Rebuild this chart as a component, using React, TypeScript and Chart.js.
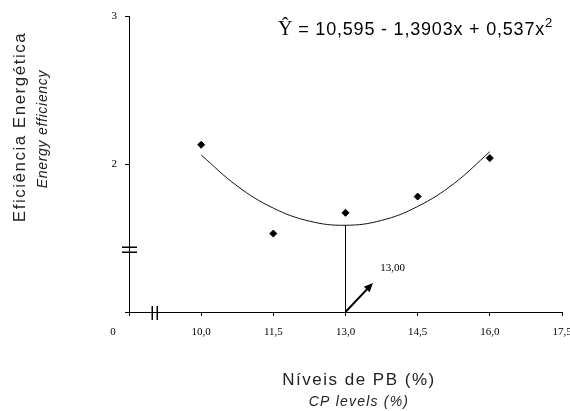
import React, { useEffect, useRef } from 'react';
import { Chart, registerables } from 'chart.js';
Chart.register(...registerables);

const xTickLabels = ['0', '10,0', '11,5', '13,0', '14,5', '16,0', '17,5'];
const cpLevels = [10.0, 11.5, 13.0, 14.5, 16.0];
const efficiency = [2.13, 1.53, 1.67, 1.78, 2.04];
const curveLevels = [10.0, 10.75, 11.5, 12.25, 13.0, 13.75, 14.5, 15.25, 16.0];
const curveValues = [2.061, 1.851, 1.702, 1.614, 1.586, 1.619, 1.713, 1.867, 2.083];
const optimumLevel = 13.0;
const optimumValue = 1.586;
const optimumLabel = '13,00';
const yMin = 1;
const yMax = 3;

// broken x axis: 0, then 10,0 ... 17,5 evenly spaced
const pos = (level: number) => 1 + (level - 10) / 1.5;

const overlay = {
  id: 'overlay',
  afterDraw(chart: any) {
    const ctx = chart.ctx;
    const xs = chart.scales.x;
    const ys = chart.scales.y;
    const ax = xs.getPixelForValue(0);
    const ay = ys.getPixelForValue(yMin);
    ctx.save();
    ctx.strokeStyle = '#000';
    ctx.fillStyle = '#000';

    // axis break marks
    ctx.lineWidth = 1.5;
    const by = ys.getPixelForValue(1.42);
    ctx.beginPath();
    ctx.moveTo(ax - 7, by - 2.5); ctx.lineTo(ax + 8, by - 2.5);
    ctx.moveTo(ax - 7, by + 2.5); ctx.lineTo(ax + 8, by + 2.5);
    ctx.stroke();
    const bx = xs.getPixelForValue(0.357);
    ctx.beginPath();
    ctx.moveTo(bx - 2.5, ay - 6); ctx.lineTo(bx - 2.5, ay + 8);
    ctx.moveTo(bx + 2.5, ay - 6); ctx.lineTo(bx + 2.5, ay + 8);
    ctx.stroke();

    // arrow to optimum
    const x0 = xs.getPixelForValue(pos(optimumLevel));
    const y0 = ys.getPixelForValue(yMin);
    const x1 = xs.getPixelForValue(pos(13.57));
    const y1 = ys.getPixelForValue(1.196);
    const ang = Math.atan2(y1 - y0, x1 - x0);
    ctx.lineWidth = 2;
    ctx.beginPath();
    ctx.moveTo(x0, y0);
    ctx.lineTo(x1 - 6 * Math.cos(ang), y1 - 6 * Math.sin(ang));
    ctx.stroke();
    ctx.beginPath();
    ctx.moveTo(x1, y1);
    ctx.lineTo(x1 - 9 * Math.cos(ang) + 4 * Math.sin(ang), y1 - 9 * Math.sin(ang) - 4 * Math.cos(ang));
    ctx.lineTo(x1 - 9 * Math.cos(ang) - 4 * Math.sin(ang), y1 - 9 * Math.sin(ang) + 4 * Math.cos(ang));
    ctx.closePath();
    ctx.fill();

    ctx.font = '11px "Liberation Serif"';
    ctx.textAlign = 'left';
    ctx.textBaseline = 'middle';
    ctx.fillText(optimumLabel, xs.getPixelForValue(pos(13.72)), ys.getPixelForValue(1.297));

    // origin label
    ctx.textAlign = 'center';
    ctx.fillText(xTickLabels[0], ax - 16, ay + 20);

    // x titles
    ctx.fillStyle = '#222';
    ctx.letterSpacing = '1.5px';
    ctx.font = '17px "Liberation Sans"';
    ctx.fillText('Níveis de PB (%)', 359, 380);
    ctx.letterSpacing = '1.2px';
    ctx.font = 'italic 14px "Liberation Sans"';
    ctx.fillText('CP levels (%)', 359, 402);

    // y titles
    ctx.save();
    ctx.translate(20, 127);
    ctx.rotate(-Math.PI / 2);
    ctx.letterSpacing = '1.5px';
    ctx.font = '17px "Liberation Sans"';
    ctx.fillText('Eficiência Energética', 0, 0);
    ctx.restore();
    ctx.save();
    ctx.translate(43, 129);
    ctx.rotate(-Math.PI / 2);
    ctx.letterSpacing = '0.7px';
    ctx.font = 'italic 14px "Liberation Sans"';
    ctx.fillText('Energy efficiency', 0, 0);
    ctx.restore();

    // equation
    ctx.fillStyle = '#000';
    ctx.letterSpacing = '0px';
    ctx.textAlign = 'left';
    ctx.textBaseline = 'alphabetic';
    let ex = 278;
    const ey = 35;
    ctx.font = '20px "Liberation Serif"';
    ctx.fillText('Ŷ', ex, ey);
    ex += ctx.measureText('Ŷ').width;
    ctx.letterSpacing = '0.8px';
    ctx.font = '18px "Liberation Sans"';
    const body = ' = 10,595 - 1,3903x + 0,537x';
    ctx.fillText(body, ex, ey);
    ex += ctx.measureText(body).width;
    ctx.font = '13px "Liberation Sans"';
    ctx.fillText('2', ex, ey - 8);
    ctx.restore();
  },
};

export default function App() {
  const ref = useRef<HTMLCanvasElement | null>(null);
  useEffect(() => {
    if (!ref.current) return;
    const chart = new Chart(ref.current, {
      type: 'scatter',
      data: {
        datasets: [
          {
            data: cpLevels.map((l, i) => ({ x: pos(l), y: efficiency[i] })),
            pointStyle: 'rectRot',
            pointRadius: 3.5,
            backgroundColor: '#000',
            borderColor: '#000',
            showLine: false,
          },
          {
            data: curveLevels.map((l, i) => ({ x: pos(l), y: curveValues[i] })),
            showLine: true,
            pointRadius: 0,
            borderColor: '#111',
            borderWidth: 1,
            tension: 0.4,
          },
          {
            data: [
              { x: pos(optimumLevel), y: optimumValue },
              { x: pos(optimumLevel), y: yMin },
            ],
            showLine: true,
            pointRadius: 0,
            borderColor: '#000',
            borderWidth: 1,
          },
        ],
      },
      options: {
        animation: false,
        responsive: true,
        maintainAspectRatio: false,
        layout: { padding: { left: 0, right: 28, top: 16, bottom: 0 } },
        plugins: { legend: { display: false }, tooltip: { enabled: false } },
        scales: {
          x: {
            type: 'linear',
            min: 0,
            max: xTickLabels.length - 1,
            afterFit: (s: any) => { s.height = 99; },
            grid: { drawOnChartArea: false, drawTicks: true, tickLength: 4, color: '#000' },
            border: { display: true, color: '#000', width: 1 },
            ticks: {
              stepSize: 1,
              autoSkip: false,
              maxRotation: 0,
              padding: 10,
              color: '#000',
              font: { family: '"Liberation Serif"', size: 11 },
              callback: (v: any) => (v === 0 ? '' : xTickLabels[v]),
            },
          },
          y: {
            type: 'linear',
            min: yMin,
            max: yMax,
            afterFit: (s: any) => { s.width = 129; },
            grid: { drawOnChartArea: false, drawTicks: true, tickLength: 4, color: '#000' },
            border: { display: true, color: '#000', width: 1 },
            ticks: {
              stepSize: 1,
              padding: 8,
              color: '#000',
              font: { family: '"Liberation Serif"', size: 11 },
              callback: (v: any) => (v === yMin ? '' : String(v)),
            },
          },
        },
      },
      plugins: [overlay],
    });
    return () => chart.destroy();
  }, []);
  return (
    <div style={{ position: 'absolute', left: 0, top: 0, width: 570, height: 411, overflow: 'hidden', background: '#fff' }}>
      <div style={{ position: 'relative', width: 590, height: 411 }}>
        <canvas ref={ref} />
      </div>
    </div>
  );
}
